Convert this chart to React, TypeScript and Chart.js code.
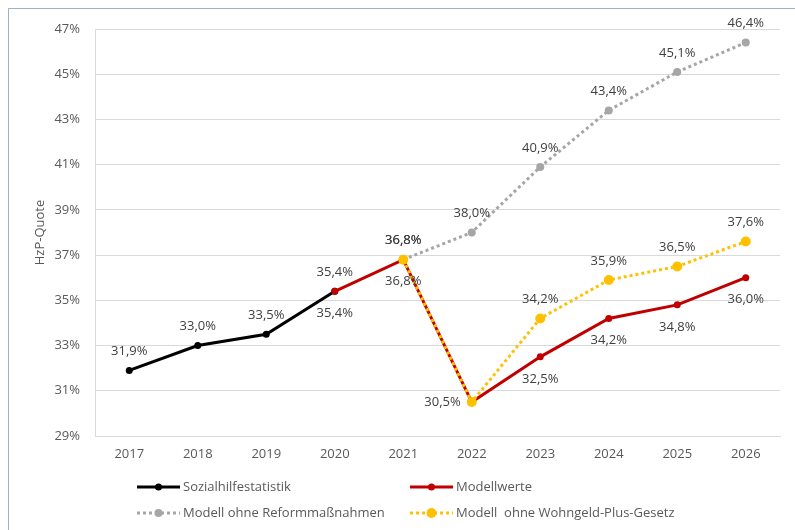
import React, { useEffect, useRef } from "react";
import { Chart, registerables } from "chart.js";

Chart.register(...registerables);

const years = ["2017", "2018", "2019", "2020", "2021", "2022", "2023", "2024", "2025", "2026"];
const sozialhilfe = [31.9, 33.0, 33.5, 35.4, null, null, null, null, null, null];
const modellwerte = [null, null, null, 35.4, 36.8, 30.5, 32.5, 34.2, 34.8, 36.0];
const ohneReform = [null, null, null, null, 36.8, 38.0, 40.9, 43.4, 45.1, 46.4];
const ohneWohngeld = [null, null, null, null, 36.8, 30.5, 34.2, 35.9, 36.5, 37.6];
const yMin = 29;
const yMax = 47;
const yStep = 2;

const seriesNames = [
  "Sozialhilfestatistik",
  "Modellwerte",
  "Modell ohne Reformmaßnahmen",
  "Modell  ohne Wohngeld-Plus-Gesetz",
];

const FONT = "'Open Sans', 'Noto Sans', sans-serif";
const fmt = (v: number) => v.toFixed(1).replace(".", ",") + "%";

const labelPlugin = {
  id: "pointLabels",
  afterDatasetsDraw(chart: any) {
    const ctx = chart.ctx;
    ctx.save();
    ctx.font = `13px ${FONT}`;
    ctx.fillStyle = "#404040";
    chart.data.datasets.forEach((ds: any, di: number) => {
      const meta = chart.getDatasetMeta(di);
      meta.data.forEach((pt: any, i: number) => {
        const v = ds.data[i];
        if (v === null || v === undefined) return;
        const pos = ds.labelPos[i];
        if (!pos || pos === "none") return;
        const t = fmt(v);
        if (pos === "above") {
          ctx.textAlign = "center";
          ctx.textBaseline = "middle";
          ctx.fillText(t, pt.x, pt.y - 19);
        } else if (pos === "below") {
          ctx.textAlign = "center";
          ctx.textBaseline = "middle";
          ctx.fillText(t, pt.x, pt.y + 22);
        } else if (pos === "left") {
          ctx.textAlign = "right";
          ctx.textBaseline = "middle";
          ctx.fillText(t, pt.x - 11, pt.y);
        }
      });
    });
    ctx.restore();
  },
};

const legendPlugin = {
  id: "customLegend",
  afterDraw(chart: any) {
    const ctx = chart.ctx;
    const items = [
      { ds: 0, x: 137, y: 487 },
      { ds: 1, x: 410, y: 487 },
      { ds: 2, x: 137, y: 513 },
      { ds: 3, x: 410, y: 513 },
    ];
    ctx.save();
    items.forEach((it) => {
      const ds = chart.data.datasets[it.ds];
      const len = 43;
      ctx.beginPath();
      ctx.strokeStyle = ds.borderColor;
      ctx.lineWidth = ds.borderWidth;
      ctx.setLineDash(ds.borderDash || []);
      ctx.moveTo(it.x, it.y);
      ctx.lineTo(it.x + len, it.y);
      ctx.stroke();
      ctx.setLineDash([]);
      ctx.beginPath();
      ctx.fillStyle = ds.pointBackgroundColor;
      ctx.arc(it.x + len / 2, it.y, ds.pointRadius, 0, Math.PI * 2);
      ctx.fill();
      ctx.font = `13px ${FONT}`;
      ctx.fillStyle = "#595959";
      ctx.textAlign = "left";
      ctx.textBaseline = "middle";
      ctx.fillText(ds.label, it.x + len + 3, it.y);
    });
    ctx.restore();
  },
};

export default function App() {
  const ref = useRef<HTMLCanvasElement | null>(null);

  useEffect(() => {
    if (!ref.current) return;
    const chart = new Chart(ref.current, {
      type: "line",
      data: {
        labels: years,
        datasets: [
          {
            label: seriesNames[0],
            data: sozialhilfe,
            borderColor: "#000000",
            backgroundColor: "#000000",
            pointBackgroundColor: "#000000",
            pointBorderColor: "#000000",
            borderWidth: 3,
            pointRadius: 3.5,
            pointBorderWidth: 0,
            order: 2,
            labelPos: ["above", "above", "above", "above", "none", "none", "none", "none", "none", "none"],
          } as any,
          {
            label: seriesNames[1],
            data: modellwerte,
            borderColor: "#c00000",
            backgroundColor: "#c00000",
            pointBackgroundColor: "#c00000",
            pointBorderColor: "#c00000",
            borderWidth: 3,
            pointRadius: 3.5,
            pointBorderWidth: 0,
            order: 1,
            labelPos: ["none", "none", "none", "below", "below", "left", "below", "below", "below", "below"],
          } as any,
          {
            label: seriesNames[2],
            data: ohneReform,
            borderColor: "#a6a6a6",
            backgroundColor: "#a6a6a6",
            pointBackgroundColor: "#a6a6a6",
            pointBorderColor: "#a6a6a6",
            borderWidth: 3,
            borderDash: [3, 3],
            pointRadius: 4,
            pointBorderWidth: 0,
            order: 3,
            labelPos: ["none", "none", "none", "none", "above", "above", "above", "above", "above", "above"],
          } as any,
          {
            label: seriesNames[3],
            data: ohneWohngeld,
            borderColor: "#ffc000",
            backgroundColor: "#ffc000",
            pointBackgroundColor: "#ffc000",
            pointBorderColor: "#ffc000",
            borderWidth: 3,
            borderDash: [3, 3],
            pointRadius: 5,
            pointBorderWidth: 0,
            order: 0,
            labelPos: ["none", "none", "none", "none", "above", "none", "above", "above", "above", "above"],
          } as any,
        ],
      },
      options: {
        responsive: false,
        animation: false,
        spanGaps: false,
        layout: { padding: { left: 28, top: 29, right: 15, bottom: 64 } },
        plugins: {
          legend: { display: false },
          tooltip: { enabled: false },
        },
        scales: {
          x: {
            offset: true,
            grid: { display: false, drawTicks: false },
            border: { display: true, color: "#d9d9d9", width: 1 },
            ticks: {
              padding: 10,
              color: "#595959",
              font: { family: FONT, size: 13 },
              maxRotation: 0,
              autoSkip: false,
            },
            afterFit: (s: any) => {
              s.height = 30;
            },
          },
          y: {
            min: yMin,
            max: yMax,
            grid: { color: "#d9d9d9", lineWidth: 1, drawTicks: false },
            border: { display: true, color: "#d9d9d9", width: 1 },
            ticks: {
              stepSize: yStep,
              padding: 15,
              color: "#595959",
              font: { family: FONT, size: 13 },
              callback: (v: any) => `${v}%`,
            },
            title: {
              display: true,
              text: "HzP-Quote",
              color: "#595959",
              font: { family: FONT, size: 13 },
            },
            afterFit: (s: any) => {
              s.width = 67;
            },
          },
        },
      } as any,
      plugins: [labelPlugin, legendPlugin],
    });
    return () => chart.destroy();
  }, []);

  return (
    <div style={{ position: "fixed", left: 0, top: 0, width: 795, height: 530, background: "#ffffff", overflow: "hidden" }}>
      <div
        style={{
          position: "absolute",
          left: 8,
          top: 8,
          width: 787,
          height: 522,
          borderTop: "1px solid #9fb3c8",
          borderLeft: "1px solid #9fb3c8",
          boxSizing: "border-box",
        }}
      />
      <canvas ref={ref} width={795} height={530} style={{ position: "absolute", left: 0, top: 0, width: 795, height: 530 }} />
    </div>
  );
}
